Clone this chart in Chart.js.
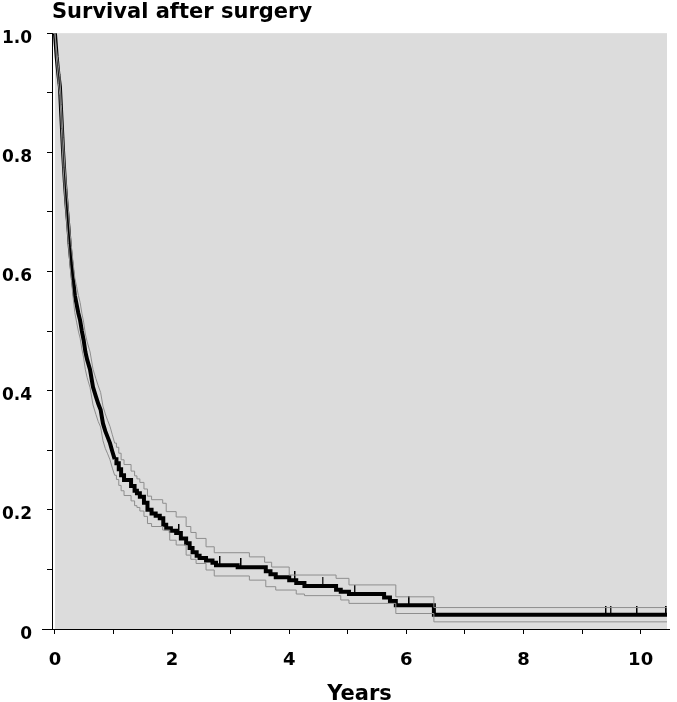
<!DOCTYPE html>
<html>
<head>
<meta charset="utf-8">
<script src="https://cdn.jsdelivr.net/npm/chart.js@4.4.1/dist/chart.umd.min.js"></script>
<style>
  html, body { margin: 0; padding: 0; background: #ffffff; }
  #wrap { width: 677px; height: 702px; }
</style>
</head>
<body>
<div id="wrap"><canvas id="c"></canvas></div>
<script>
// ---- data ----
const chartTitle = 'Survival after surgery';
const xAxisTitle = 'Years';

const mainTimes = [0, 0.03, 0.06, 0.085, 0.11, 0.14, 0.17, 0.20, 0.23, 0.255, 0.28, 0.31, 0.34, 0.37, 0.40, 0.43, 0.46, 0.49, 0.52, 0.55, 0.60, 0.65, 0.70, 0.74, 0.78, 0.82, 0.86, 0.90, 0.94, 0.98, 1.02, 1.05, 1.09, 1.13, 1.18, 1.30, 1.36, 1.40, 1.45, 1.52, 1.58, 1.65, 1.72, 1.79, 1.85, 1.90, 1.98, 2.07, 2.15, 2.24, 2.30, 2.35, 2.42, 2.47, 2.58, 2.69, 2.75, 3.12, 3.60, 3.68, 3.77, 4.00, 4.12, 4.26, 4.80, 4.88, 5.02, 5.62, 5.72, 5.82, 6.47, 10.45];
const mainSurvival = [1.0, 0.96, 0.93, 0.91, 0.86, 0.80, 0.75, 0.71, 0.675, 0.64, 0.615, 0.586, 0.56, 0.545, 0.53, 0.518, 0.50, 0.485, 0.465, 0.452, 0.435, 0.406, 0.39, 0.378, 0.368, 0.345, 0.332, 0.322, 0.312, 0.298, 0.285, 0.278, 0.268, 0.258, 0.250, 0.240, 0.232, 0.228, 0.222, 0.212, 0.200, 0.194, 0.190, 0.186, 0.175, 0.169, 0.165, 0.161, 0.152, 0.144, 0.136, 0.129, 0.123, 0.119, 0.115, 0.111, 0.107, 0.1035, 0.097, 0.092, 0.087, 0.082, 0.077, 0.072, 0.066, 0.0626, 0.0587, 0.053, 0.047, 0.040, 0.024, 0.024];

const upperTimes = [0, 0.03, 0.06, 0.085, 0.11, 0.14, 0.17, 0.20, 0.23, 0.255, 0.28, 0.31, 0.34, 0.37, 0.40, 0.43, 0.46, 0.49, 0.52, 0.55, 0.60, 0.65, 0.70, 0.74, 0.78, 0.82, 0.86, 0.90, 0.94, 0.98, 1.02, 1.05, 1.09, 1.13, 1.18, 1.30, 1.36, 1.40, 1.45, 1.52, 1.58, 1.65, 1.84, 1.90, 2.07, 2.24, 2.32, 2.41, 2.58, 2.72, 3.32, 3.58, 3.70, 4.00, 4.80, 5.02, 5.82, 6.47, 10.45];
const upperSurvival = [1.0, 0.97, 0.945, 0.925, 0.88, 0.825, 0.775, 0.737, 0.703, 0.668, 0.643, 0.615, 0.589, 0.575, 0.56, 0.548, 0.53, 0.515, 0.495, 0.482, 0.465, 0.436, 0.42, 0.408, 0.397, 0.374, 0.361, 0.35, 0.34, 0.326, 0.312, 0.305, 0.295, 0.284, 0.276, 0.265, 0.257, 0.252, 0.246, 0.235, 0.223, 0.217, 0.211, 0.197, 0.188, 0.172, 0.162, 0.152, 0.138, 0.128, 0.121, 0.112, 0.104, 0.0906, 0.085, 0.074, 0.054, 0.036, 0.036];

const lowerTimes = [0, 0.03, 0.06, 0.085, 0.11, 0.14, 0.17, 0.20, 0.23, 0.255, 0.28, 0.31, 0.34, 0.37, 0.40, 0.43, 0.46, 0.49, 0.52, 0.55, 0.60, 0.65, 0.70, 0.74, 0.78, 0.82, 0.86, 0.90, 0.94, 0.98, 1.02, 1.05, 1.09, 1.13, 1.18, 1.30, 1.36, 1.40, 1.45, 1.52, 1.58, 1.65, 1.84, 1.96, 2.07, 2.24, 2.32, 2.41, 2.58, 2.72, 3.32, 3.60, 3.77, 4.12, 4.26, 4.88, 5.02, 5.82, 6.47, 10.45];
const lowerSurvival = [1.0, 0.95, 0.915, 0.895, 0.84, 0.775, 0.725, 0.683, 0.647, 0.612, 0.587, 0.557, 0.531, 0.515, 0.50, 0.488, 0.47, 0.455, 0.435, 0.422, 0.405, 0.376, 0.36, 0.348, 0.339, 0.316, 0.303, 0.294, 0.284, 0.27, 0.258, 0.251, 0.241, 0.232, 0.224, 0.215, 0.207, 0.204, 0.198, 0.189, 0.177, 0.172, 0.166, 0.149, 0.141, 0.124, 0.117, 0.110, 0.099, 0.089, 0.082, 0.071, 0.0654, 0.0587, 0.056, 0.0487, 0.043, 0.026, 0.012, 0.012];

const censorTimes = [2.12, 2.82, 3.18, 4.10, 4.57, 5.12, 6.05, 9.41, 9.49, 9.94, 10.44];
const censorSurvival = [0.161, 0.107, 0.1035, 0.082, 0.072, 0.0587, 0.040, 0.024, 0.024, 0.024, 0.024];

const xTickValues = [0, 2, 4, 6, 8, 10];
const xTickLabels = ['0', '2', '4', '6', '8', '10'];
const yTickValues = [0, 0.2, 0.4, 0.6, 0.8, 1.0];
const yTickLabels = ['0', '0.2', '0.4', '0.6', '0.8', '1.0'];

// in the steep early part the many tiny steps blend into a smooth curve
const denseUntil = 1.02;

// ---- helpers ----
const toPoints = (xs, ys) => xs.map((x, i) => ({ x: x, y: ys[i] }));
const early = (xs, ys) => toPoints(xs, ys).filter(p => p.x <= denseUntil);
const late = (xs, ys) => toPoints(xs, ys).filter(p => p.x >= denseUntil);
const labelFor = (v, vals, labs) => {
  const i = vals.findIndex(t => Math.abs(t - v) < 1e-6);
  return i >= 0 ? labs[i] : '';
};

// censor mark: short vertical stroke standing on the curve
const censorMark = document.createElement('canvas');
censorMark.width = 2; censorMark.height = 18;
(function () {
  const c = censorMark.getContext('2d');
  c.fillStyle = '#000';
  c.fillRect(0, 0, 1.4, 9);
})();

const FONT = "'DejaVu Sans', 'Liberation Sans', Arial, sans-serif";

const framePlugin = {
  id: 'plotFrame',
  beforeDraw(chart) {
    const a = chart.chartArea, ctx = chart.ctx;
    ctx.save();
    ctx.fillStyle = '#dcdcdc';
    ctx.fillRect(a.left + 3, a.top, a.right - a.left - 3, a.bottom - a.top);
    ctx.restore();
  },
  afterDraw(chart) {
    const a = chart.chartArea, ctx = chart.ctx;
    ctx.save();
    ctx.strokeStyle = '#000';
    ctx.lineWidth = 1;
    ctx.beginPath();
    ctx.moveTo(a.left - 10, a.bottom + 0.5);
    ctx.lineTo(a.right + 3, a.bottom + 0.5);
    ctx.stroke();
    ctx.restore();
  }
};

const ciStyle = { showLine: true, borderColor: '#8e8e8e', borderWidth: 1, pointRadius: 0, fill: false };
const mainStyle = { showLine: true, borderColor: '#000000', borderWidth: 4, pointRadius: 0, fill: false };

new Chart(document.getElementById('c'), {
  type: 'scatter',
  data: {
    datasets: [
      Object.assign({ label: 'upper (early)', data: early(upperTimes, upperSurvival), stepped: false }, ciStyle),
      Object.assign({ label: 'upper', data: late(upperTimes, upperSurvival), stepped: true }, ciStyle),
      Object.assign({ label: 'lower (early)', data: early(lowerTimes, lowerSurvival), stepped: false }, ciStyle),
      Object.assign({ label: 'lower', data: late(lowerTimes, lowerSurvival), stepped: true }, ciStyle),
      Object.assign({ label: 'survival (early)', data: early(mainTimes, mainSurvival), stepped: false }, mainStyle),
      Object.assign({ label: 'survival', data: late(mainTimes, mainSurvival), stepped: true }, mainStyle),
      { label: 'censored', data: toPoints(censorTimes, censorSurvival), showLine: false,
        pointStyle: censorMark, pointRadius: 9 }
    ]
  },
  options: {
    responsive: true,
    maintainAspectRatio: false,
    animation: false,
    devicePixelRatio: 1,
    layout: { padding: { left: 0, right: 8, top: 0, bottom: 0 } },
    plugins: {
      legend: { display: false },
      tooltip: { enabled: false },
      title: {
        display: true, text: chartTitle, align: 'start', fullSize: false,
        color: '#000', font: { family: FONT, size: 21, weight: 'bold', lineHeight: 1.15 },
        padding: { top: 0, bottom: 9 }
      }
    },
    scales: {
      x: {
        type: 'linear', min: -0.05, max: 10.45,
        afterFit: s => { s.height = 73; },
        ticks: {
          stepSize: 1, includeBounds: false, autoSkip: false, maxRotation: 0, minRotation: 0,
          color: '#000', padding: 16,
          font: { family: FONT, size: 18, weight: 'bold' },
          callback: v => labelFor(v, xTickValues, xTickLabels)
        },
        grid: { drawOnChartArea: false, drawTicks: true, tickLength: 5, color: '#000', lineWidth: 1 },
        border: { display: true, color: '#000', width: 1 },
        title: {
          display: true, text: xAxisTitle, color: '#000',
          font: { family: FONT, size: 21, weight: 'bold', lineHeight: 0.7 },
          padding: { top: 0, bottom: 0 }
        }
      },
      y: {
        type: 'linear', min: 0, max: 1,
        afterFit: s => { s.width = 52; },
        ticks: {
          stepSize: 0.1, includeBounds: false, autoSkip: false,
          color: '#000', padding: 15,
          font: { family: FONT, size: 17, weight: 'bold', lineHeight: 0.6 },
          callback: v => {
            const l = labelFor(v, yTickValues, yTickLabels);
            return l ? ['', l] : '';
          }
        },
        grid: { drawOnChartArea: false, drawTicks: true, tickLength: 5, color: '#000', lineWidth: 1 },
        border: { display: true, color: '#000', width: 1 }
      }
    }
  },
  plugins: [framePlugin]
});
</script>
</body>
</html>
